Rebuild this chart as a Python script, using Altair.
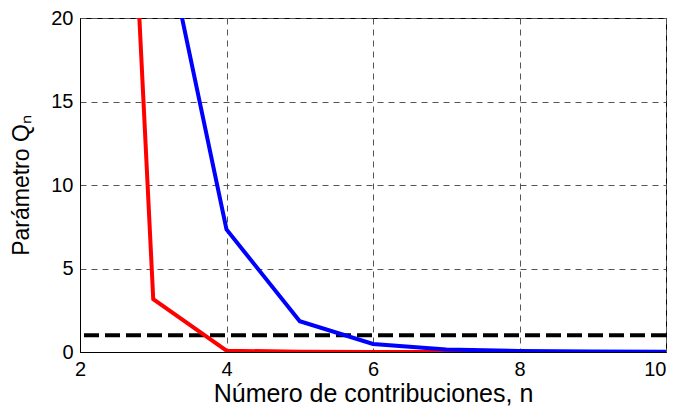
import altair as alt
import pandas as pd

# Data
n_red = [2, 3, 4, 5, 6, 7, 8, 9, 10]
q_red = [92.0, 3.16, 0.08, 0.01, 0.0, 0.0, 0.0, 0.0, 0.0]
n_blue = [3, 4, 5, 6, 7, 8, 9, 10]
q_blue = [28.2, 7.34, 1.84, 0.48, 0.15, 0.06, 0.03, 0.02]
threshold = [1.0]
x_ticks = [2, 4, 6, 8, 10]
y_ticks = [0, 5, 10, 15, 20]

df = pd.DataFrame({
    "n": n_red + n_blue,
    "q": q_red + q_blue,
    "serie": ["rojo"] * len(n_red) + ["azul"] * len(n_blue),
})
df_t = pd.DataFrame({"q": threshold})

x_enc = alt.X("n:Q", scale=alt.Scale(domain=[2, 10], nice=False, zero=False),
              axis=alt.Axis(values=x_ticks, title="Número de contribuciones, n",
                            labelFlush=False, titleFontSize=25, titlePadding=2,
                            labelAlign=alt.expr("datum.value == 10 ? 'right' : 'center'")))
y_enc = alt.Y("q:Q", scale=alt.Scale(domain=[0, 20], nice=False),
              axis=alt.Axis(values=y_ticks, title="Parámetro Qₙ",
                            titleFontSize=23, titlePadding=17, labelFlush=False))

thr = alt.Chart(df_t).mark_rule(strokeDash=[15, 6], strokeWidth=4, color="black").encode(
    y=alt.Y("q:Q", scale=alt.Scale(domain=[0, 20], nice=False))
)

lines = alt.Chart(df).mark_line(clip=True, strokeWidth=4, strokeCap="butt", strokeJoin="miter").encode(
    x=x_enc, y=y_enc,
    color=alt.Color("serie:N", scale=alt.Scale(domain=["rojo", "azul"], range=["#ff0000", "#0000ff"]), legend=None),
)

chart = alt.layer(thr, lines).properties(
    width=586, height=334,
    autosize=alt.AutoSizeParams(type="none"),
    padding={"left": 72, "top": 10, "right": 4, "bottom": 56},
).configure_view(stroke="black", strokeWidth=1).configure_axis(
    labelFont="Liberation Sans", titleFont="Liberation Sans",
    labelFontSize=20, labelColor="black", titleColor="black",
    titleFontWeight="normal", ticks=False, domainColor="black", domainWidth=1,
    grid=True, gridColor="#555555", gridDash=[6, 5], gridWidth=1, gridOpacity=1,
    labelPadding=7,
)

chart.save("out.html", embed_options={"renderer": "svg", "actions": False})
